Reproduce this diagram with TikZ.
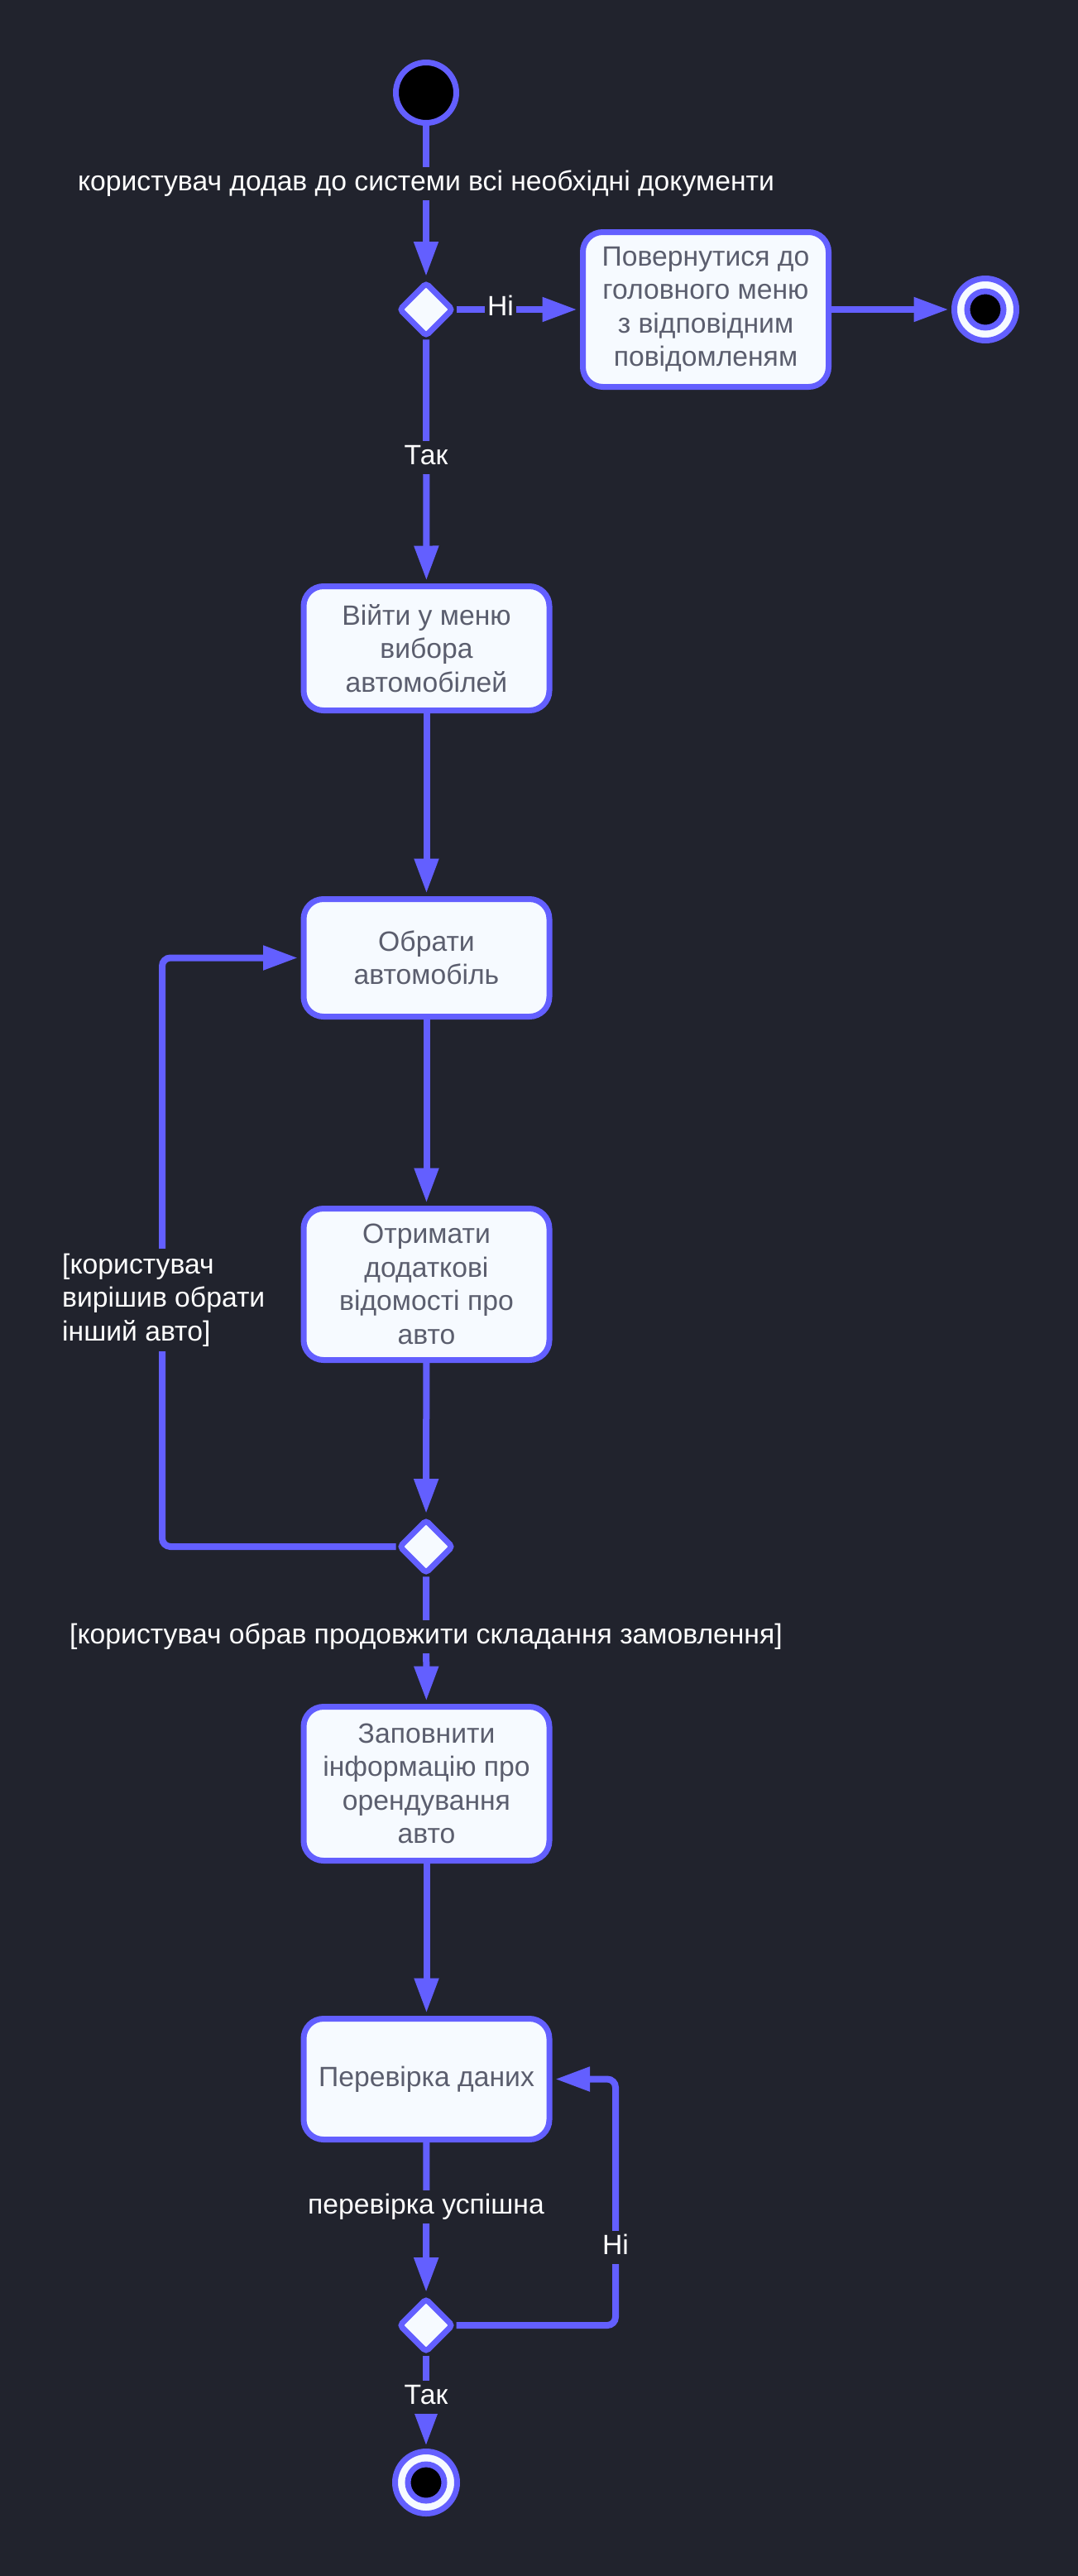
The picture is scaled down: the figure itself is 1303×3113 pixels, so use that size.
\documentclass[tikz,border=0pt]{standalone}
\usepackage{fontspec}
\setmainfont{Liberation Sans}
\usetikzlibrary{arrows.meta,shapes.geometric,calc}
\definecolor{bgc}{HTML}{21232D}
\definecolor{pur}{HTML}{635FFF}
\definecolor{boxfill}{HTML}{F6FAFF}
\definecolor{boxtext}{HTML}{5B5E6E}
\begin{document}
\begin{tikzpicture}[x=1pt,y=-1pt,
  every node/.style={font=\fontsize{33.7}{40.5}\selectfont},
  act/.style={draw=pur, line width=7pt, fill=boxfill, text=boxtext, rounded corners=24pt, minimum width=297pt, align=center, inner sep=0pt},
  dec/.style={diamond, aspect=1, draw=pur, line width=7pt, fill=boxfill, minimum width=66pt, minimum height=66pt, inner sep=0pt, rounded corners=4pt},
  startnode/.style={circle, draw=pur, line width=7pt, fill=black, minimum size=73pt, inner sep=0pt},
  endout/.style={circle, draw=pur, line width=7pt, fill=boxfill, minimum size=75pt, inner sep=0pt},
  endin/.style={circle, draw=pur, line width=7pt, fill=black, minimum size=44pt, inner sep=0pt},
  flow/.style={draw=pur, line width=8pt, -{Triangle[length=42pt,width=28pt]}, shorten >=3.5pt},
  lab/.style={fill=bgc, text=white, inner xsep=3pt, inner ysep=5pt, text height=23pt, text depth=7pt},
  mlab/.style={fill=bgc, text=white, inner xsep=4pt, inner ysep=6pt, align=left},
]
\useasboundingbox[fill=bgc] (0,0) rectangle (1303,3113);

\node[startnode] (start) at (515,112) {};
\node[dec] (d1) at (515,374) {};
\node[act, minimum height=187pt] (boxR) at (853,374) {Повернутися до\\головного меню\\з відповідним\\повідомленям};
\node[endout] (end1) at (1191,374) {};
\node[endin] (end1in) at (end1) {};
\node[act, minimum height=150pt] (box2) at (515.5,783.5) {Війти у меню\\вибора\\автомобілей};
\node[act, minimum height=142pt] (box3) at (515.5,1157.5) {Обрати\\автомобіль};
\node[act, minimum height=183pt] (box4) at (515.5,1552) {Отримати\\додаткові\\відомості про\\авто};
\node[dec] (d2) at (515,1869) {};
\node[act, minimum height=186pt] (box5) at (515.5,2155.5) {Заповнити\\інформацію про\\орендування\\авто};
\node[act, minimum height=146pt] (box6) at (515.5,2512.5) {Перевірка даних};
\node[dec] (d3) at (515,2810) {};
\node[endout] (end2) at (515,3000) {};
\node[endin] (end2in) at (end2) {};
\coordinate (loopL) at (196,0);
\coordinate (loopR) at (744,0);

\draw[flow] (start) -- (d1);
\draw[flow] (d1) -- (boxR);
\draw[flow] (boxR) -- (end1);
\draw[flow] (d1) -- (box2);
\draw[flow] (box2) -- (box3);
\draw[flow] (box3) -- (box4);
\draw[flow] (box4) -- (d2);
\draw[flow, rounded corners=10pt] (d2.west) -- (d2.west -| loopL) |- (box3.west);
\draw[flow] (d2) -- (box5);
\draw[flow] (box5) -- (box6);
\draw[flow] (box6) -- (d3);
\draw[flow, rounded corners=10pt] (d3.east) -- (d3.east -| loopR) |- (box6.east);
\draw[flow] (d3) -- (end2);

\node[lab] (l1) at (515,222) {користувач додав до системи всі необхідні документи};
\node[lab] (lni1) at (605,373) {Ні};
\node[lab] (ltak1) at (515,553) {Так};
\node[mlab, anchor=west] (lloop) at (71,1571) {[користувач\\вирішив обрати\\інший авто]};
\node[lab] (l2) at (515,1978) {[користувач обрав продовжити складання замовлення]};
\node[lab] (l3) at (515,2667) {перевірка успішна};
\node[lab] (lni2) at (744,2716) {Ні};
\node[lab] (ltak2) at (515,2897) {Так};
\end{tikzpicture}
\end{document}
